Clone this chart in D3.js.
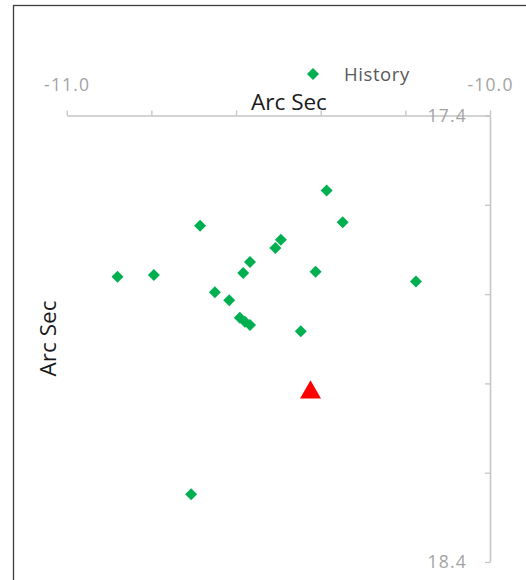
<!DOCTYPE html>
<html>
<head>
<meta charset="utf-8">
<script src="https://cdn.jsdelivr.net/npm/d3@7"></script>
<style>
  html, body { margin: 0; padding: 0; background: #fff; }
  svg { display: block; }
</style>
</head>
<body>
<svg id="chart" width="526" height="580"></svg>
<script>
// Offset of each observation, in arc seconds (x = RA offset, y = Dec offset)
const historyX = [-10.880, -10.794, -10.685, -10.567, -10.583, -10.650, -10.616, -10.591, -10.579, -10.567,
                  -10.386, -10.348, -10.494, -10.507, -10.412, -10.175, -10.447, -10.706];
const historyY = [17.761, 17.757, 17.647, 17.728, 17.753, 17.796, 17.814, 17.853, 17.862, 17.869,
                  17.568, 17.639, 17.678, 17.697, 17.750, 17.772, 17.883, 18.248];
// Current position
const currentX = [-10.424];
const currentY = [18.020];

const xDomain = [-11.0, -10.0];
const yDomain = [17.4, 18.4];
const xTicks = [-11.0, -10.8, -10.6, -10.4, -10.2, -10.0];
const yTicks = [17.4, 17.6, 17.8, 18.0, 18.2, 18.4];
const xLabeled = [-11.0, -10.0];
const yLabeled = [17.4, 18.4];
const seriesName = "History";
const axisTitle = "Arc Sec";

const svg = d3.select("#chart");
const font = "'Open Sans', 'Liberation Sans', sans-serif";

// chart area frame
svg.append("rect")
  .attr("x", 13.5).attr("y", 5.5)
  .attr("width", 530).attr("height", 600)
  .attr("fill", "#fff")
  .attr("stroke", "#3f3f3f").attr("stroke-width", 1.3);

const x = d3.scaleLinear().domain(xDomain).range([66.7, 490]);
const y = d3.scaleLinear().domain(yDomain).range([115.5, 562]);

// plain hyphen for negative numbers
const fmt = d3.formatLocale({ decimal: ".", thousands: ",", grouping: [3], currency: ["", ""], minus: "-" }).format(".1f");

// horizontal axis along the top, labels only at the ends
const xAxis = d3.axisTop(x)
  .tickValues(xTicks)
  .tickSizeInner(5).tickSizeOuter(0)
  .tickPadding(20)
  .tickFormat(d => xLabeled.some(v => Math.abs(v - d) < 1e-9) ? fmt(d) : "");
const gx = svg.append("g").attr("transform", `translate(0,${y(yDomain[0])})`).call(xAxis);

// vertical axis on the right side, ticks pointing left
const yAxis = d3.axisLeft(y)
  .tickValues(yTicks)
  .tickSizeInner(5).tickSizeOuter(0)
  .tickPadding(18)
  .tickFormat(d => yLabeled.some(v => Math.abs(v - d) < 1e-9) ? fmt(d) : "");
const gy = svg.append("g").attr("transform", `translate(${x(xDomain[1])},0)`).call(yAxis);

[gx, gy].forEach(g => {
  g.select(".domain").attr("stroke", "#c4c4c4").attr("stroke-width", 1.5);
  g.selectAll(".tick line").attr("stroke", "#c4c4c4").attr("stroke-width", 1.3);
  g.selectAll(".tick text")
    .attr("fill", "#a3a3a3")
    .style("font-family", font)
    .style("font-size", "17.5px")
    .style("letter-spacing", "1.2px");
});

// axis titles
svg.append("text")
  .attr("x", 289).attr("y", 110)
  .attr("text-anchor", "middle")
  .attr("fill", "#1a1a1a")
  .style("font-family", font).style("font-size", "22.5px")
  .text(axisTitle);

svg.append("text")
  .attr("transform", "translate(55.5,338.5) rotate(-90)")
  .attr("text-anchor", "middle")
  .attr("fill", "#1a1a1a")
  .style("font-family", font).style("font-size", "22.5px")
  .text(axisTitle);

const sq = d3.symbol().type(d3.symbolSquare).size(72);

// legend
svg.append("path")
  .attr("d", sq())
  .attr("transform", "translate(313,74) rotate(45)")
  .attr("fill", "#00b050");
svg.append("text")
  .attr("x", 344).attr("y", 81)
  .attr("fill", "#595959")
  .style("font-family", font).style("font-size", "18.5px")
  .style("letter-spacing", "0.6px")
  .text(seriesName);

// history points as diamonds
const pts = historyX.map((d, i) => ({ x: d, y: historyY[i] }));
svg.append("g").selectAll("path")
  .data(pts)
  .join("path")
  .attr("d", sq())
  .attr("transform", d => `translate(${x(d.x)},${y(d.y)}) rotate(45)`)
  .attr("fill", "#00b050");

// current point as a red triangle
const cur = currentX.map((d, i) => ({ x: d, y: currentY[i] }));
svg.append("g").selectAll("path")
  .data(cur)
  .join("path")
  .attr("d", d3.symbol().type(d3.symbolTriangle).size(190)())
  .attr("transform", d => `translate(${x(d.x)},${y(d.y)})`)
  .attr("fill", "#ff0000");
</script>
</body>
</html>
